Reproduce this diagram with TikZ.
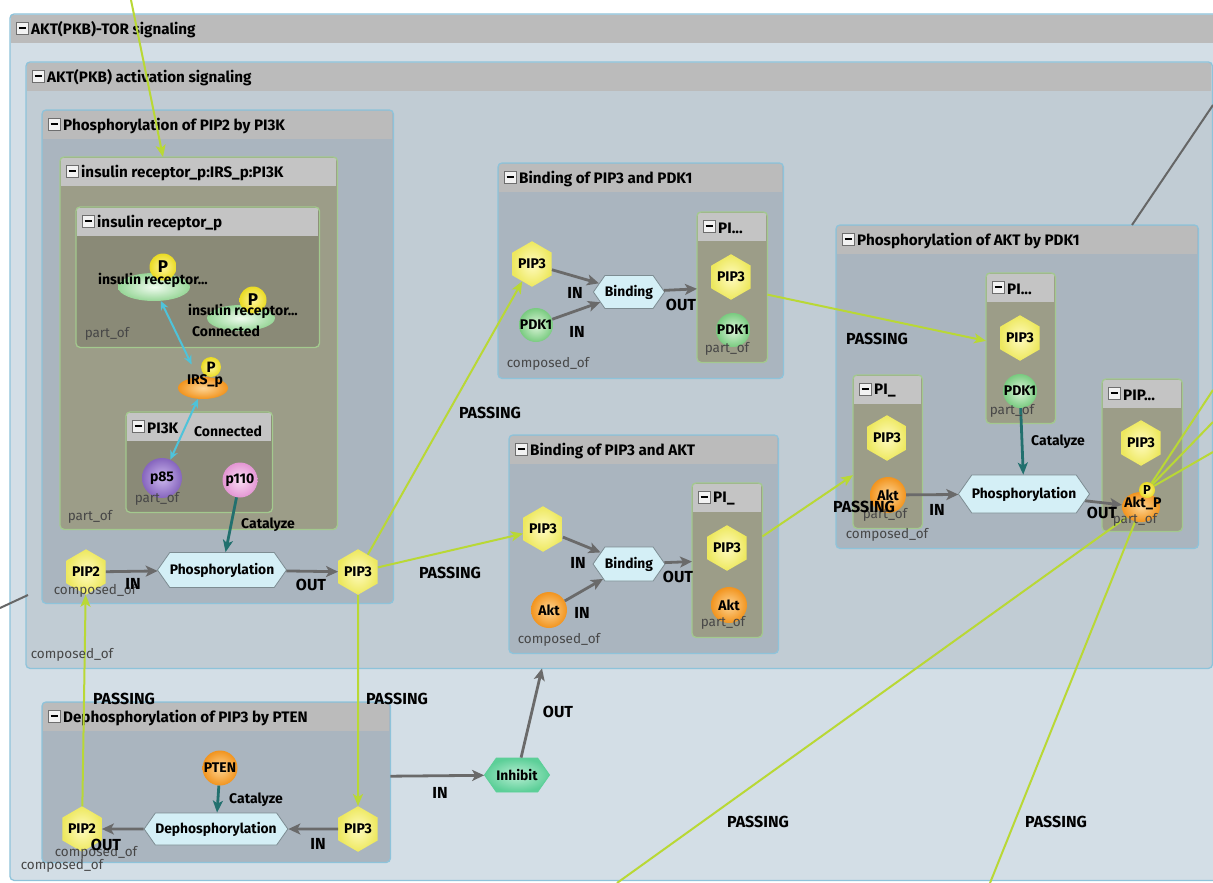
\documentclass[tikz,border=0pt]{standalone}
\usepackage{fontspec}
\setmainfont{Fira Sans}
\usetikzlibrary{shapes.geometric,shapes.symbols,arrows.meta}

% palette
\definecolor{torfill}{HTML}{D3DEE6}
\definecolor{actfill}{HTML}{C1CCD4}
\definecolor{procbox}{HTML}{AAB5BF}
\definecolor{cplxfill}{HTML}{9C9D88}
\definecolor{cplxdark}{HTML}{8A8A77}
\definecolor{hdrgray}{HTML}{BBBBBB}
\definecolor{hdrlight}{HTML}{C4C4C4}
\definecolor{blueedge}{HTML}{8EC3DA}
\definecolor{greenedge}{HTML}{A3C98E}
\definecolor{passcol}{HTML}{B9D835}
\definecolor{flowcol}{HTML}{6A6A6A}
\definecolor{catcol}{HTML}{22706E}
\definecolor{conncol}{HTML}{4EC3DA}
\definecolor{linkgray}{HTML}{666666}
\definecolor{lblgray}{HTML}{474747}
\definecolor{minusedge}{HTML}{6E6E6E}
\definecolor{minusfill}{HTML}{F2F2F2}
\definecolor{hexin}{HTML}{FFFBC0}
\definecolor{hexout}{HTML}{EDE85E}
\definecolor{procfill}{HTML}{D4EFF6}
\definecolor{procedge}{HTML}{7D8C92}
\definecolor{pdkin}{HTML}{DDF5DA}
\definecolor{pdkout}{HTML}{79CB80}
\definecolor{aktin}{HTML}{FDD493}
\definecolor{aktout}{HTML}{F2941E}
\definecolor{p85in}{HTML}{CDB9EE}
\definecolor{p85out}{HTML}{8665BE}
\definecolor{p110in}{HTML}{F9DDF3}
\definecolor{p110out}{HTML}{E496D4}
\definecolor{irin}{HTML}{F0FBF0}
\definecolor{irout}{HTML}{97D697}
\definecolor{pin}{HTML}{FFF59C}
\definecolor{pout}{HTML}{EADB22}
\definecolor{inhin}{HTML}{B9EED3}
\definecolor{inhout}{HTML}{5CCF98}

\newcommand\fs[1]{\fontsize{#1}{#1}\selectfont}

\tikzset{
  grpshape/.style={rectangle, rounded corners=4pt, inner sep=0pt, anchor=north west},
  minusbox/.style={draw=minusedge, fill=minusfill, line width=0.6pt},
  ttl/.style={font=\bfseries\fs{15.2}, inner sep=0pt, anchor=west},
  lab/.style={font=\bfseries\fs{14}, inner sep=0pt},
  caplab/.style={font=\bfseries\fs{16}, inner sep=0pt},
  glab/.style={font=\fs{13.5}, text=lblgray, inner sep=0pt},
  mol/.style={circle, inner sep=0pt, font=\bfseries\fs{14}, shading=radial},
  pdk/.style={mol, minimum size=34pt, inner color=pdkin, outer color=pdkout},
  akt/.style={mol, minimum size=36pt, inner color=aktin, outer color=aktout},
  hexn/.style={regular polygon, regular polygon sides=6, shape border rotate=30,
    minimum size=41pt, inner sep=0pt, font=\bfseries\fs{14}, shading=radial,
    inner color=hexin, outer color=hexout},
  proc/.style={signal, signal to=east and west, signal pointer angle=110,
    draw=procedge, line width=0.8pt, fill=procfill, inner sep=0pt,
    font=\bfseries\fs{13.8}},
  irell/.style={ellipse, inner sep=0pt, shading=radial, inner color=irin, outer color=irout},
  orell/.style={ellipse, inner sep=0pt, shading=radial, inner color=aktin, outer color=aktout},
  pcirc/.style={circle, inner sep=0pt, shading=radial, inner color=pin, outer color=pout,
    font=\bfseries\fs{17}},
  flow/.style={draw=flowcol, line width=2.8pt, -{Stealth[length=12pt,width=11pt,inset=3pt]}},
  cat/.style={draw=catcol, line width=2.8pt, -{Stealth[length=12pt,width=10pt,inset=3pt]}},
  conn/.style={draw=conncol, line width=2pt,
    {Stealth[length=9pt,width=8pt]}-{Stealth[length=9pt,width=8pt]}},
  pass/.style={draw=passcol, line width=2pt, -{Stealth[length=12pt,width=10pt,inset=3pt]}},
  passln/.style={draw=passcol, line width=2pt},
  link/.style={draw=linkgray, line width=2pt},
}

% group box: name, x, y, width, height, fill, edge, header colour, title
\newcommand\grp[9]{%
  \node[grpshape, fill=#6, minimum width=#4pt, minimum height=#5pt] (#1) at (#2,#3) {};
  \fill[#8] ({#2+1},{#3+1}) rectangle ({#2+#4-1},{#3+29});
  \draw[#7, line width=1.3pt, rounded corners=4pt] (#1.north west) rectangle (#1.south east);
  \draw[minusbox] ({#2+6},{#3+8}) rectangle ({#2+18},{#3+20});
  \draw[line width=1.6pt] ({#2+8.5},{#3+14}) -- ({#2+15.5},{#3+14});
  \node[ttl] (#1-t) at ({#2+21},{#3+16}) {#9};
}

\begin{document}
\begin{tikzpicture}[x=1pt,y=-1pt]
\useasboundingbox (0,0) rectangle (1213,883);
\clip (0,0) rectangle (1213,883);
\fill[white] (0,0) rectangle (1213,883);

% ---------- nested group boxes ----------
\grp{tor}{10}{14}{1240}{866}{torfill}{blueedge}{hdrgray}{AKT(PKB)-TOR signaling}
\grp{act}{26}{62}{1186}{606}{actfill}{blueedge}{hdrgray}{AKT(PKB) activation signaling}
\grp{pip2box}{42}{110}{351}{493}{procbox}{blueedge}{hdrgray}{Phosphorylation of PIP2 by PI3K}
\grp{irs}{60}{157}{277}{372}{cplxfill}{greenedge}{hdrlight}{insulin receptor\_p:IRS\_p:PI3K}
\grp{irp}{76}{207}{243}{140}{cplxdark}{greenedge}{hdrlight}{insulin receptor\_p}
\grp{pi3k}{126}{412}{146}{100}{cplxdark}{greenedge}{hdrlight}{PI3K}
\grp{bpdk}{498}{163}{285}{215}{procbox}{blueedge}{hdrgray}{Binding of PIP3 and PDK1}
\grp{cpdk}{697}{212}{70}{150}{cplxfill}{greenedge}{hdrlight}{PI...}
\grp{bakt}{509}{435}{269}{218}{procbox}{blueedge}{hdrgray}{Binding of PIP3 and AKT}
\grp{cakt}{692}{483}{70}{154}{cplxfill}{greenedge}{hdrlight}{PI\_}
\grp{pakt}{836}{225}{362}{323}{procbox}{blueedge}{hdrgray}{Phosphorylation of AKT by PDK1}
\grp{cmid}{986}{273}{69}{150}{cplxfill}{greenedge}{hdrlight}{PI...}
\grp{cleft}{853}{375}{69}{153}{cplxfill}{greenedge}{hdrlight}{PI\_}
\grp{cright}{1102}{379}{80}{152}{cplxfill}{greenedge}{hdrlight}{PIP...}
\grp{dbox}{42}{702}{348}{160}{procbox}{blueedge}{hdrgray}{Dephosphorylation of PIP3 by PTEN}

% ---------- entities ----------
% insulin receptor_p
\node[irell, minimum width=72pt, minimum height=28pt] (ir1) at (154,287) {};
\node[pcirc, minimum size=27pt] (ir1p) at (163,267) {P};
\node[lab] (ir1t) at (153,280) {insulin receptor...};
\node[irell, minimum width=68pt, minimum height=26pt] (ir2) at (241,318) {};
\node[pcirc, minimum size=27pt] (ir2p) at (253,300) {P};
\node[lab] (ir2t) at (243,311) {insulin receptor...};
% IRS_p
\node[orell, minimum width=50pt, minimum height=22pt] (irsp) at (203,388) {};
\node[pcirc, minimum size=20pt, font=\bfseries\fs{15}] (irspp) at (211,367) {P};
\node[lab] (irspt) at (205,381) {IRS\_p};
% PI3K subunits
\node[mol, minimum size=40pt, inner color=p85in, outer color=p85out] (p85) at (162,478) {p85};
\node[mol, minimum size=35pt, inner color=p110in, outer color=p110out] (p110) at (240,480) {p110};
% phosphorylation of PIP2
\node[hexn] (pip2a) at (86,572) {PIP2};
\node[proc, minimum width=120pt, minimum height=35pt] (phos1) at (222,570) {Phosphorylation};
\node[hexn] (pip3a) at (358,572) {PIP3};

% binding of PIP3 and PDK1
\node[hexn] (pip3b) at (532,264) {PIP3};
\node[pdk] (pdk1a) at (536,325) {PDK1};
\node[proc, minimum width=66pt, minimum height=33pt] (bind1) at (629,292) {Binding};
\node[hexn] (pip3c) at (731,277) {PIP3};
\node[pdk] (pdk1b) at (733,330) {PDK1};

% binding of PIP3 and AKT
\node[hexn] (pip3d) at (543,529) {PIP3};
\node[akt] (akt1) at (549,610) {Akt};
\node[proc, minimum width=68pt, minimum height=34pt] (bind2) at (629,564) {Binding};
\node[hexn] (pip3e) at (727,548) {PIP3};
\node[akt] (akt2) at (729,605) {Akt};

% phosphorylation of AKT by PDK1
\node[hexn] (pip3f) at (1020,338) {PIP3};
\node[pdk] (pdk1c) at (1020,391) {PDK1};
\node[hexn] (pip3g) at (887,438) {PIP3};
\node[akt] (akt3) at (888,495) {Akt};
\node[hexn] (pip3h) at (1141,443) {PIP3};
\node[orell, minimum width=38pt, minimum height=30pt] (aktp) at (1141,507) {};
\node[pcirc, minimum size=16pt, font=\bfseries\fs{13}] (aktpp) at (1147,490) {P};
\node[lab] (aktpt) at (1143,503) {Akt\_P};
\node[proc, minimum width=118pt, minimum height=38pt] (phos2) at (1024,494) {Phosphorylation};

% dephosphorylation of PIP3 by PTEN
\node[mol, minimum size=35pt, inner color=aktin, outer color=aktout] (pten) at (220,768) {PTEN};
\node[proc, minimum width=140pt, minimum height=32pt] (dephos) at (216,829) {Dephosphorylation};
\node[hexn] (pip3i) at (358,829) {PIP3};
\node[hexn] (pip2b) at (82,829) {PIP2};

% inhibition
\node[proc, minimum width=60pt, minimum height=34pt, draw=inhout, shading=radial,
      inner color=inhin, outer color=inhout] (inhibit) at (517,775) {Inhibit};

% ---------- reactions ----------
\draw[conn, shorten >=14pt] (ir1) -- (irsp);
\draw[conn] (irsp) -- (p85);
\draw[cat] (p110) -- (phos1);
\draw[flow] (pip2a) -- (phos1);
\draw[flow] (phos1) -- (pip3a);

\draw[flow] (pip3b) -- (bind1);
\draw[flow] (pdk1a) -- (bind1);
\draw[flow] (bind1) -- (cpdk);

\draw[flow] (pip3d) -- (bind2);
\draw[flow] (akt1) -- (bind2);
\draw[flow] (bind2) -- (cakt);

\draw[cat] (pdk1c) -- (phos2);
\draw[flow] (akt3) -- (phos2);
\draw[flow] (phos2) -- (aktp);

\draw[cat] (pten) -- (dephos);
\draw[flow] (pip3i) -- (dephos);
\draw[flow] (dephos) -- (pip2b);

\draw[flow] ([yshift=6pt]dbox.east) -- (inhibit);
\draw[flow] (inhibit) -- ([xshift=516pt]act.south west);

% ---------- passing links ----------
\coordinate (topin) at (131,0);
\draw[pass] (topin) -- ([xshift=103pt]irs.north west);
\draw[pass] (pip3a) -- (pip3b);
\draw[pass] (pip3a) -- (pip3d);
\draw[pass] (pip3a) -- (pip3i);
\draw[pass] (pip2b) -- (pip2a);
\draw[pass] (cpdk) -- (cmid);
\draw[pass] (cakt) -- (cleft);

\coordinate (out1) at (1213,390);
\coordinate (out2) at (1213,422);
\coordinate (out3) at (1213,452);
\coordinate (out4) at (617,883);
\coordinate (out5) at (990,883);
\draw[passln] (aktpp) -- (out1);
\draw[passln] (aktpp) -- (out2);
\draw[passln] (aktpp) -- (out3);
\draw[passln] (aktp) -- (out4);
\draw[passln] (aktp) -- (out5);

% links leaving the view
\coordinate (tr) at (1213,105);
\draw[link] (tr) -- ([xshift=296pt]pakt.north west);
\coordinate (lf) at (0,608);
\draw[link] (lf) -- (28,595);

% ---------- labels ----------
\node[lab] (l1) at (226,331) {Connected};
\node[glab] (l2) at (107,334) {part\_of};
\node[lab] (l3) at (228,431) {Connected};
\node[glab] (l4) at (157,499) {part\_of};
\node[glab] (l5) at (90,517) {part\_of};
\node[lab] (l6) at (268,525) {Catalyze};
\node[glab] (l7) at (95,591) {composed\_of};
\node[caplab] (l8) at (133,584) {IN};
\node[caplab] (l9) at (311,585) {OUT};

\node[caplab] (l10) at (575,293) {IN};
\node[caplab] (l11) at (577,332) {IN};
\node[caplab] (l12) at (681,305) {OUT};
\node[glab] (l13) at (727,349) {part\_of};
\node[glab] (l14) at (548,364) {composed\_of};

\node[caplab] (l15) at (578,563) {IN};
\node[caplab] (l16) at (582,613) {IN};
\node[caplab] (l17) at (678,577) {OUT};
\node[glab] (l18) at (723,623) {part\_of};
\node[glab] (l19) at (559,640) {composed\_of};

\node[caplab] (l20) at (877,339) {PASSING};
\node[glab] (l21) at (885,515) {part\_of};
\node[caplab] (l22) at (864,507) {PASSING};
\node[glab] (l23) at (887,535) {composed\_of};
\node[caplab] (l24) at (937,510) {IN};
\node[glab] (l25) at (1135,520) {part\_of};
\node[caplab] (l26) at (1102,513) {OUT};
\node[lab] (l27) at (1058,442) {Catalyze};
\node[glab] (l28) at (1012,411) {part\_of};

\node[glab] (l29) at (72,655) {composed\_of};
\node[caplab] (l30) at (490,413) {PASSING};
\node[caplab] (l31) at (450,573) {PASSING};
\node[caplab] (l32) at (397,699) {PASSING};
\node[caplab] (l33) at (124,699) {PASSING};

\node[lab] (l34) at (256,800) {Catalyze};
\node[glab] (l35) at (96,853) {composed\_of};
\node[caplab] (l36) at (106,845) {OUT};
\node[caplab] (l37) at (318,844) {IN};
\node[glab] (l38) at (62,866) {composed\_of};

\node[caplab] (l39) at (440,793) {IN};
\node[caplab] (l40) at (558,712) {OUT};
\node[caplab] (l41) at (758,822) {PASSING};
\node[caplab] (l42) at (1056,822) {PASSING};
\end{tikzpicture}
\end{document}
